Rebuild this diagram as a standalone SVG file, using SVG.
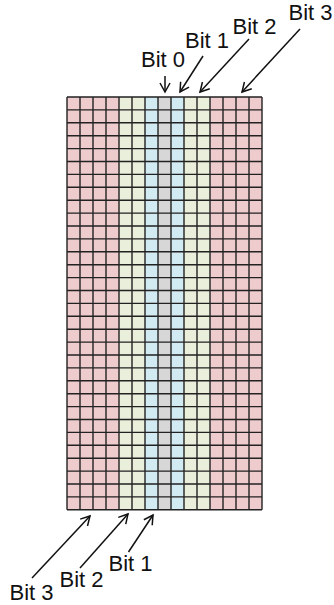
<svg xmlns="http://www.w3.org/2000/svg" width="334" height="605" viewBox="0 0 334 605">
<style>
.lbl{font-family:"Liberation Sans",Arial,sans-serif;font-size:22px;fill:#111111}
.arr{stroke:#111111;stroke-width:1.5;fill:none;marker-end:url(#ah)}
.grid{stroke:#222222;stroke-width:1.4;fill:none}
</style>
<defs>
<marker id="ah" viewBox="-10 -6 12 12" refX="0" refY="0" markerWidth="12" markerHeight="12" markerUnits="userSpaceOnUse" orient="auto">
<path d="M-9,-5 L0,0 L-9,5" fill="none" stroke="#111111" stroke-width="1.5"/>
</marker>
</defs>
<rect width="334" height="605" fill="#ffffff"/>
<g id="grid">
<rect x="67" y="97" width="52" height="412.8" fill="#eecbcd"/>
<rect x="119" y="97" width="26" height="412.8" fill="#eaefdb"/>
<rect x="145" y="97" width="13" height="412.8" fill="#d2eaf1"/>
<rect x="158" y="97" width="13" height="412.8" fill="#d7d7d7"/>
<rect x="171" y="97" width="13" height="412.8" fill="#d2eaf1"/>
<rect x="184" y="97" width="26" height="412.8" fill="#eaefdb"/>
<rect x="210" y="97" width="52" height="412.8" fill="#eecbcd"/>
<path class="grid" d="M67,97V509.8M80,97V509.8M93,97V509.8M106,97V509.8M119,97V509.8M132,97V509.8M145,97V509.8M158,97V509.8M171,97V509.8M184,97V509.8M197,97V509.8M210,97V509.8M223,97V509.8M236,97V509.8M249,97V509.8M262,97V509.8
M67,97H262M67,109.9H262M67,122.8H262M67,135.7H262M67,148.6H262M67,161.5H262M67,174.4H262M67,187.3H262M67,200.2H262M67,213.1H262M67,226H262M67,238.9H262M67,251.8H262M67,264.7H262M67,277.6H262M67,290.5H262M67,303.4H262M67,316.3H262M67,329.2H262M67,342.1H262M67,355H262M67,367.9H262M67,380.8H262M67,393.7H262M67,406.6H262M67,419.5H262M67,432.4H262M67,445.3H262M67,458.2H262M67,471.1H262M67,484H262M67,496.9H262M67,509.8H262"/>
</g>
<g id="connectors">
<path class="arr" d="M165,76 L165,92"/>
<path class="arr" d="M203,56 L180,92"/>
<path class="arr" d="M249,39 L200,92"/>
<path class="arr" d="M300,29 L242,92"/>
<path class="arr" d="M128.5,552 L153,515"/>
<path class="arr" d="M80,568 L128,514"/>
<path class="arr" d="M32,578 L90,516"/>
</g>
<g id="label-top-bit0"><text class="lbl" x="141" y="66.5">Bit 0</text></g>
<g id="label-top-bit1"><text class="lbl" x="185" y="47.5">Bit 1</text></g>
<g id="label-top-bit2"><text class="lbl" x="232.5" y="33.5">Bit 2</text></g>
<g id="label-top-bit3"><text class="lbl" x="288.5" y="20">Bit 3</text></g>
<g id="label-bottom-bit1"><text class="lbl" x="108.5" y="571">Bit 1</text></g>
<g id="label-bottom-bit2"><text class="lbl" x="59.5" y="587">Bit 2</text></g>
<g id="label-bottom-bit3"><text class="lbl" x="9.5" y="600">Bit 3</text></g>
</svg>
